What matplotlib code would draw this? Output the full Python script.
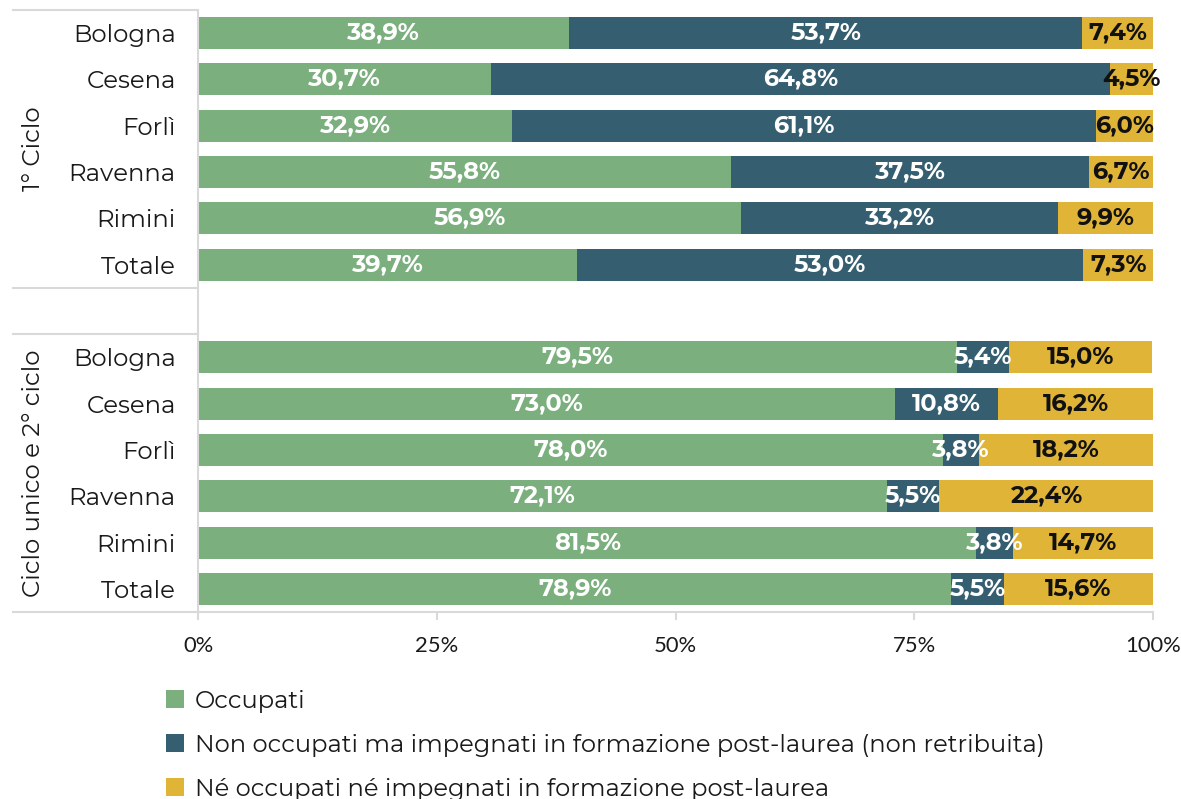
import matplotlib
matplotlib.use("Agg")
import matplotlib.pyplot as plt
import matplotlib.transforms as mtransforms
from matplotlib import font_manager as fm
from matplotlib.patches import Patch
import numpy as np

cities = ["Bologna", "Cesena", "Forlì", "Ravenna", "Rimini", "Totale"]
groups = ["1° Ciclo", "Ciclo unico e 2° ciclo"]
series_names = ["Occupati",
                "Non occupati ma impegnati in formazione post-laurea (non retribuita)",
                "Né occupati né impegnati in formazione post-laurea"]
occupati_1 = [38.9, 30.7, 32.9, 55.8, 56.9, 39.7]
formazione_1 = [53.7, 64.8, 61.1, 37.5, 33.2, 53.0]
ne_1 = [7.4, 4.5, 6.0, 6.7, 9.9, 7.3]
occupati_2 = [79.5, 73.0, 78.0, 72.1, 81.5, 78.9]
formazione_2 = [5.4, 10.8, 3.8, 5.5, 3.8, 5.5]
ne_2 = [15.0, 16.2, 18.2, 22.4, 14.7, 15.6]
xticks = [0, 25, 50, 75, 100]
xtick_labels = ["0%", "25%", "50%", "75%", "100%"]

colors = ["#7BAF7E", "#355E70", "#E0B437"]
text_colors = ["white", "white", "#111111"]

# Build static instances of the variable Montserrat font (regular / bold)
REG, BOLD = "Montserrat Alternates", "Montserrat Alternates"
try:
    from fontTools.ttLib import TTFont
    from fontTools.varLib import instancer
    vpath = None
    for f in fm.fontManager.ttflist:
        fn = f.fname.split("/")[-1]
        if fn.startswith("Montserrat[") or fn == "Montserrat[wght].ttf":
            vpath = f.fname
            break
    if vpath:
        made = {}
        for w, nm in [(400, "MontsStaticReg"), (700, "MontsStaticBold")]:
            vf = TTFont(vpath)
            inst = instancer.instantiateVariableFont(vf, {"wght": w})
            name = inst["name"]
            name.names = [r for r in name.names if r.nameID not in (16, 17, 21, 22, 25)]
            for r in name.names:
                if r.nameID in (1, 4, 6):
                    r.string = nm
                elif r.nameID == 2:
                    r.string = "Regular"
            if "OS/2" in inst:
                inst["OS/2"].usWeightClass = 400
            out = f"{nm}.ttf"
            inst.save(out)
            fm.fontManager.addfont(out)
            made[w] = nm
        REG, BOLD = made[400], made[700]
except Exception:
    REG, BOLD = "Montserrat Alternates", "Montserrat Alternates"

plt.rcParams['font.family'] = [REG, 'Open Sans', 'DejaVu Sans']
bold_kw = dict(family=[BOLD, 'DejaVu Sans'])
if BOLD == "Montserrat Alternates":
    bold_kw["fontweight"] = "bold"

fig = plt.figure(figsize=(11.81, 7.99), dpi=100)
ax = fig.add_axes([198/1181, 1 - 612/799, (1153-198)/1181, 602/799])

labels = cities + [""] + cities
n = len(labels)
ypos_1 = np.arange(0, 6)
ypos_2 = np.arange(7, 13)

for ypos, data in [(ypos_1, [occupati_1, formazione_1, ne_1]),
                   (ypos_2, [occupati_2, formazione_2, ne_2])]:
    left = np.zeros(len(ypos))
    for k, vals in enumerate(data):
        vals = np.array(vals)
        ax.barh(ypos, vals, left=left, height=0.69, color=colors[k])
        for y, l, v in zip(ypos, left, vals):
            ax.text(l + v / 2, y, f"{v:.1f}%".replace(".", ","), ha="center",
                    va="center", color=text_colors[k], fontsize=17.3,
                    **bold_kw)
        left = left + vals

ax.set_ylim(n - 0.5, -0.5)
ax.set_xlim(0, 100)
ax.set_yticks(np.arange(n))
ax.set_yticklabels(labels, fontsize=17.6, color="#1a1a1a")
ax.tick_params(axis="y", length=0, pad=16)
ax.set_xticks(xticks)
ax.set_xticklabels(xtick_labels, fontsize=15.8, color="#1a1a1a",
                   family=["Lato", "DejaVu Sans"])
ax.tick_params(axis="x", length=6, color="#D9D9D9", width=1.5, pad=11.5)

for s in ["top", "right"]:
    ax.spines[s].set_visible(False)
for s in ["left", "bottom"]:
    ax.spines[s].set_color("#D9D9D9")
    ax.spines[s].set_linewidth(1.5)

trans = mtransforms.blended_transform_factory(ax.transAxes, ax.transData)
for yb in [-0.5, 5.5, 6.5, 12.5]:
    ax.plot([-0.194, 0], [yb, yb], transform=trans, color="#D9D9D9",
            lw=1.5, clip_on=False)

ax.text(-0.172, 2.5, groups[0], transform=trans, rotation=90, ha="center",
        va="center", fontsize=17.6, color="#1a1a1a")
ax.text(-0.172, 9.5, groups[1], transform=trans, rotation=90, ha="center",
        va="center", fontsize=17.6, color="#1a1a1a")

handles = [Patch(facecolor=c) for c in colors]
fig.legend(handles, series_names, loc="upper left",
           bbox_to_anchor=(156/1181, 1 - 680/799), frameon=False,
           fontsize=17.4, handlelength=0.75, handleheight=0.75,
           handletextpad=0.46, labelspacing=0.87, borderaxespad=0,
           labelcolor="#1a1a1a")

fig.savefig("out.png", dpi=100)
